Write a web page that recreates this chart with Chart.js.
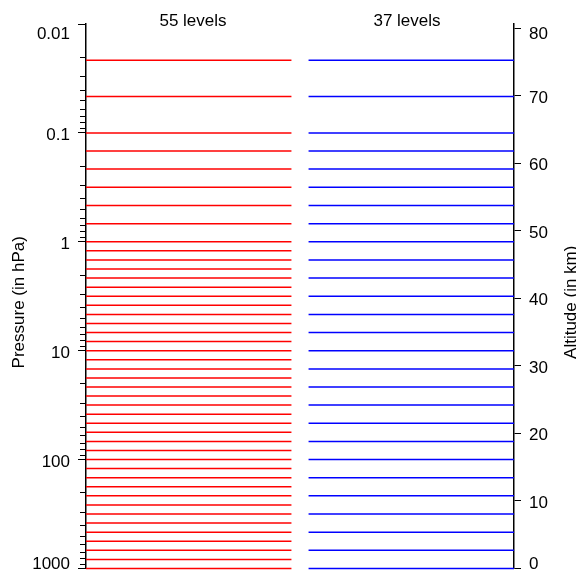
<!DOCTYPE html>
<html>
<head>
<meta charset="utf-8">
<script src="https://cdn.jsdelivr.net/npm/chart.js@4"></script>
<style>
  html, body { margin: 0; padding: 0; background: #fff; }
  canvas { display: block; }
</style>
</head>
<body>
<canvas id="levelsChart" width="576" height="572"></canvas>
<script>
// Model levels (hPa)
const redLevels = [1000, 825, 681, 562, 464, 383, 316, 261, 215, 178, 147, 121,
  100, 82.5, 68.1, 56.2, 46.4, 38.3, 31.6, 26.1, 21.5, 17.8, 14.7, 12.1,
  10, 8.25, 6.81, 5.62, 4.64, 3.83, 3.16, 2.61, 2.15, 1.78, 1.47, 1.21,
  1, 0.681, 0.464, 0.316, 0.215, 0.147, 0.1, 0.0464, 0.0215];
const blueLevels = [1000, 681, 464, 316, 215, 147, 100, 68.1, 46.4, 31.6, 21.5, 14.7,
  10, 6.81, 4.64, 3.16, 2.15, 1.47, 1, 0.681, 0.464, 0.316, 0.215, 0.147,
  0.1, 0.0464, 0.0215];
const columnTitles = ["55 levels", "37 levels"];
const pressureLabels = [0.01, 0.1, 1, 10, 100, 1000];
const altitudeLabels = [0, 10, 20, 30, 40, 50, 60, 70, 80];

const FONT_SIZE = 17;
const FONT = FONT_SIZE + "px 'Liberation Sans', Arial, Helvetica, sans-serif";

// columns along the hidden x axis
const redSpan = [0, 0.48];
const blueSpan = [0.52, 1];

const isDecade = (v) => pressureLabels.some(d => Math.abs(v - d) < d * 1e-6);

function pressureTickValues() {
  const vals = [];
  pressureLabels.forEach((d, i) => {
    vals.push(d);
    if (i < pressureLabels.length - 1) {
      for (let m = 2; m <= 9; m++) vals.push(+(m * d).toPrecision(6));
    }
  });
  return vals;
}

function levelSet(p, span, color) {
  return {
    data: [{ x: span[0], y: p }, { x: span[1], y: p }],
    borderColor: color,
    borderWidth: 1.5,
    pointRadius: 0,
    showLine: true,
    fill: false,
    clip: false,
    yAxisID: "y"
  };
}

const datasets = [
  ...redLevels.map(p => levelSet(p, redSpan, "#ff0000")),
  ...blueLevels.map(p => levelSet(p, blueSpan, "#0000ff"))
];

// labels, minor ticks and axis titles
const textPlugin = {
  id: "levelText",
  afterDraw(chart) {
    const { ctx, chartArea, scales } = chart;
    const yP = scales.y, yA = scales.alt, x = scales.x;
    ctx.save();
    ctx.font = FONT;
    ctx.fillStyle = "#000";
    ctx.strokeStyle = "#000";
    ctx.lineWidth = 1;

    // minor ticks on the pressure axis
    yP.ticks.forEach(t => {
      if (isDecade(t.value)) return;
      const py = Math.round(yP.getPixelForValue(t.value)) + 0.5;
      ctx.beginPath();
      ctx.moveTo(chartArea.left - 6, py);
      ctx.lineTo(chartArea.left, py);
      ctx.stroke();
    });

    const h = 0.716 * FONT_SIZE;
    const baselineFor = (pixel) => {
      let top = pixel + 1 - h / 2;
      if (top < chartArea.top + 2.5) top = chartArea.top + 2.5;
      if (top + h > chartArea.bottom + 0.5) top = chartArea.bottom - h;
      return top + h;
    };

    ctx.textBaseline = "alphabetic";
    ctx.textAlign = "right";
    pressureLabels.forEach(v => {
      ctx.fillText(String(v), chartArea.left - 16, baselineFor(yP.getPixelForValue(v)));
    });
    ctx.textAlign = "left";
    altitudeLabels.forEach(v => {
      ctx.fillText(String(v), chartArea.right + 15, baselineFor(yA.getPixelForValue(v)));
    });

    // column titles
    ctx.textAlign = "center";
    ctx.fillText(columnTitles[0], x.getPixelForValue(0.25), 25.5);
    ctx.fillText(columnTitles[1], x.getPixelForValue(0.75), 25.5);

    // axis titles
    const midY = (chartArea.top + chartArea.bottom) / 2 + 6;
    ctx.save();
    ctx.translate(24, midY);
    ctx.rotate(-Math.PI / 2);
    ctx.fillText("Pressure (in hPa)", 0, 0);
    ctx.restore();
    ctx.save();
    ctx.translate(576, midY);
    ctx.rotate(-Math.PI / 2);
    ctx.fillText("Altitude (in km)", 0, 0);
    ctx.restore();

    ctx.restore();
  }
};

new Chart(document.getElementById("levelsChart").getContext("2d"), {
  type: "scatter",
  data: { datasets },
  plugins: [textPlugin],
  options: {
    responsive: false,
    animation: false,
    layout: { padding: { top: 24, bottom: 3.5, left: 0, right: 0 } },
    plugins: { legend: { display: false }, tooltip: { enabled: false } },
    scales: {
      x: { type: "linear", min: 0, max: 1, display: false },
      y: {
        type: "logarithmic",
        position: "left",
        reverse: true,
        min: 0.01,
        max: 1000,
        afterBuildTicks: (scale) => { scale.ticks = pressureTickValues().map(v => ({ value: v })); },
        afterFit: (scale) => { scale.width = 86; },
        ticks: { display: false, autoSkip: false },
        grid: {
          drawOnChartArea: false,
          tickLength: 8,
          tickWidth: 1,
          tickColor: (c) => (c.tick && isDecade(c.tick.value)) ? "#000" : "rgba(0,0,0,0)"
        },
        border: { display: true, color: "#000", width: 1.5 }
      },
      alt: {
        type: "linear",
        position: "right",
        min: 0,
        max: 80.6,
        afterBuildTicks: (scale) => { scale.ticks = altitudeLabels.map(v => ({ value: v })); },
        afterFit: (scale) => { scale.width = 62; },
        ticks: { display: false, autoSkip: false },
        grid: { drawOnChartArea: false, tickLength: 7, tickWidth: 1, tickColor: "#000" },
        border: { display: true, color: "#000", width: 1.5 }
      }
    }
  }
});
</script>
</body>
</html>
